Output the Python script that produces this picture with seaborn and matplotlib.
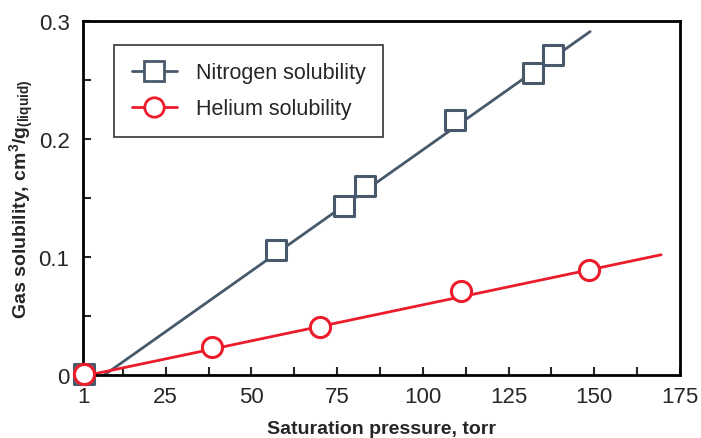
import matplotlib
matplotlib.use("Agg")
import matplotlib.pyplot as plt
from matplotlib.lines import Line2D
from matplotlib.ticker import MultipleLocator, FixedLocator, FuncFormatter
import seaborn as sns
import pandas as pd

# --- dados ---
n2_pressure = [1.2, 57.3, 77.1, 83.2, 109.3, 132.0, 138.0]
n2_solub = [0.001, 0.106, 0.143, 0.160, 0.216, 0.256, 0.271]
he_pressure = [1.2, 38.5, 70.1, 111.1, 148.5]
he_solub = [0.001, 0.024, 0.041, 0.071, 0.089]

# retas ajustadas (extremos)
n2_fit_x = [7.0, 148.8]
n2_fit_y = [0.0, 0.291]
he_fit_x = [2.3, 169.5]
he_fit_y = [0.0, 0.102]

x_ticks = [1, 25, 50, 75, 100, 125, 150, 175]
y_ticks = [0, 0.1, 0.2, 0.3]

N2_COLOR = '#47596a'
HE_COLOR = '#ec1c2c'

sns.set_style('white')
plt.rcParams['font.family'] = ['Liberation Sans', 'DejaVu Sans']
plt.rcParams['mathtext.default'] = 'regular'

fig = plt.figure(figsize=(7.01, 4.39), dpi=100)
ax = fig.add_axes([0.119, 0.143, 0.851, 0.807])

# retas
sns.lineplot(x=n2_fit_x, y=n2_fit_y, ax=ax, color=N2_COLOR, linewidth=2, zorder=2)
sns.lineplot(x=he_fit_x, y=he_fit_y, ax=ax, color=HE_COLOR, linewidth=2, zorder=2)

# pontos
df_n2 = pd.DataFrame({'p': n2_pressure, 's': n2_solub})
df_he = pd.DataFrame({'p': he_pressure, 's': he_solub})
sns.scatterplot(data=df_n2, x='p', y='s', ax=ax, marker='s', s=210, facecolor='white',
                edgecolor=N2_COLOR, linewidth=2.2, zorder=4, clip_on=False)
sns.scatterplot(data=df_he, x='p', y='s', ax=ax, marker='o', s=210, facecolor='white',
                edgecolor=HE_COLOR, linewidth=2.2, zorder=5, clip_on=False)

ax.set_xlim(1, 175)
ax.set_ylim(0, 0.3)
ax.xaxis.set_major_locator(FixedLocator(x_ticks))
ax.xaxis.set_minor_locator(FixedLocator([12.5 + 25 * i for i in range(7)]))
ax.yaxis.set_major_locator(FixedLocator(y_ticks))
ax.yaxis.set_minor_locator(MultipleLocator(0.05))
ax.yaxis.set_major_formatter(FuncFormatter(lambda v, p: '0' if v == 0 else f'{v:.1f}'))

ax.tick_params(which='both', direction='in', length=6, width=1.5, labelsize=16,
               bottom=True, left=True, top=False, right=False)
ax.tick_params(axis='y', pad=10)
ax.tick_params(axis='x', pad=8)
for sp in ax.spines.values():
    sp.set_linewidth(2)
    sp.set_color('black')

ax.set_xlabel('Saturation pressure, torr', fontsize=14, fontweight='bold', labelpad=9)
ax.set_ylabel('Gas solubility, cm$^3$/g$_{(liquid)}$', fontsize=14, fontweight='bold', labelpad=2)

handles = [
    Line2D([], [], color=N2_COLOR, linewidth=2, marker='s', markersize=14,
           markerfacecolor='white', markeredgecolor=N2_COLOR, markeredgewidth=2),
    Line2D([], [], color=HE_COLOR, linewidth=2, marker='o', markersize=14,
           markerfacecolor='white', markeredgecolor=HE_COLOR, markeredgewidth=2),
]
leg = ax.legend(handles, ['Nitrogen solubility', 'Helium solubility'], loc='upper left',
                bbox_to_anchor=(0.052, 0.932), fontsize=15.5, frameon=True, fancybox=False,
                edgecolor='black', handlelength=2.1, borderpad=0.8, labelspacing=0.7,
                handletextpad=0.9, borderaxespad=0)
leg.get_frame().set_linewidth(1.2)

plt.savefig('out.png', dpi=100)
